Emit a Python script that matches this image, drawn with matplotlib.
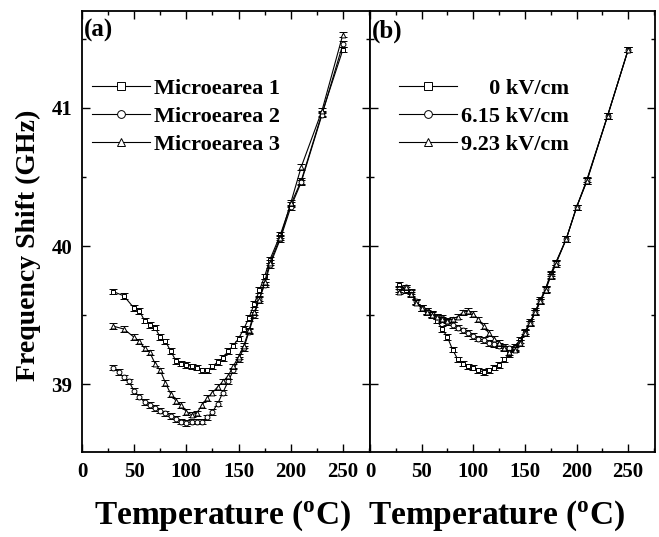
import matplotlib
matplotlib.use("Agg")
import matplotlib.pyplot as plt
from matplotlib.ticker import MultipleLocator

plt.rcParams['font.family'] = ['Liberation Serif', 'DejaVu Serif']
plt.rcParams['font.weight'] = 'bold'
plt.rcParams['mathtext.fontset'] = 'custom'
plt.rcParams['mathtext.rm'] = 'Liberation Serif:bold'
plt.rcParams['mathtext.it'] = 'Liberation Serif:bold'

# ---------- Panel (a) ----------
a_labels = ["Microearea 1", "Microearea 2", "Microearea 3"]
a1_x = [30, 40, 50, 55, 60, 65, 70, 75, 80, 85, 90, 95, 100, 105, 110, 115, 120, 125, 130, 135,
        140, 145, 150, 155, 160, 165, 170, 175, 180, 190, 200, 210, 230, 250]
a1_y = [39.67, 39.64, 39.55, 39.53, 39.46, 39.43, 39.41, 39.34, 39.31, 39.24, 39.17, 39.15, 39.14,
        39.13, 39.12, 39.10, 39.10, 39.13, 39.16, 39.19, 39.24, 39.28, 39.33, 39.40, 39.48, 39.58,
        39.68, 39.78, 39.90, 40.08, 40.30, 40.47, 40.96, 41.42]
a2_x = [30, 35, 40, 45, 50, 55, 60, 65, 70, 75, 80, 85, 90, 95, 100, 105, 110, 115, 120, 125,
        130, 135, 140, 145, 150, 155, 160, 165, 170, 175, 180, 190, 200, 210, 230, 250]
a2_y = [39.12, 39.09, 39.05, 39.02, 38.95, 38.91, 38.87, 38.85, 38.83, 38.81, 38.79, 38.77, 38.75,
        38.73, 38.72, 38.73, 38.73, 38.73, 38.76, 38.80, 38.86, 38.94, 39.02, 39.10, 39.18, 39.26,
        39.38, 39.50, 39.62, 39.72, 39.86, 40.05, 40.28, 40.46, 40.95, 41.46]
a3_x = [30, 40, 50, 55, 60, 65, 70, 75, 80, 85, 90, 95, 100, 105, 110, 115, 120, 125, 130, 135,
        140, 145, 150, 155, 160, 165, 170, 175, 180, 190, 200, 210, 230, 250]
a3_y = [39.42, 39.40, 39.34, 39.31, 39.26, 39.23, 39.15, 39.10, 39.01, 38.93, 38.88, 38.85, 38.80,
        38.78, 38.79, 38.85, 38.90, 38.94, 38.98, 39.02, 39.06, 39.13, 39.20, 39.28, 39.39, 39.52,
        39.61, 39.74, 39.88, 40.06, 40.31, 40.57, 40.98, 41.53]

# ---------- Panel (b) ----------
b_labels = ["     0 kV/cm", "6.15 kV/cm", "9.23 kV/cm"]
b_x = [28, 35, 40, 45, 50, 55, 60, 65, 70, 75, 80, 85, 90, 95, 100, 105, 110, 115, 120, 125,
       130, 135, 140, 145, 150, 155, 160, 165, 170, 175, 180, 190, 200, 210, 230, 250]
b1_y = [39.72, 39.68, 39.66, 39.60, 39.55, 39.53, 39.51, 39.46, 39.40, 39.34, 39.25, 39.18, 39.15,
        39.13, 39.12, 39.10, 39.09, 39.10, 39.12, 39.14, 39.18, 39.22, 39.27, 39.32, 39.38, 39.45,
        39.53, 39.61, 39.69, 39.80, 39.88, 40.05, 40.28, 40.47, 40.94, 41.42]
b2_y = [39.69, 39.70, 39.67, 39.60, 39.55, 39.53, 39.51, 39.49, 39.48, 39.45, 39.43, 39.41, 39.39,
        39.37, 39.35, 39.33, 39.32, 39.30, 39.29, 39.28, 39.27, 39.26, 39.26, 39.30, 39.37, 39.44,
        39.52, 39.60, 39.69, 39.79, 39.88, 40.05, 40.28, 40.48, 40.94, 41.42]
b3_y = [39.67, 39.70, 39.65, 39.59, 39.55, 39.52, 39.50, 39.49, 39.47, 39.46, 39.47, 39.49, 39.52,
        39.53, 39.51, 39.47, 39.42, 39.37, 39.33, 39.30, 39.26, 39.23, 39.25, 39.30, 39.37, 39.44,
        39.52, 39.60, 39.68, 39.78, 39.87, 40.05, 40.28, 40.47, 40.94, 41.42]

err = 0.02
markers = ['s', 'o', '^']

fig = plt.figure(figsize=(6.59, 5.37), dpi=100)
axA = fig.add_axes([82/659, 1-452/537, 288/659, 441/537])
axB = fig.add_axes([370/659, 1-452/537, 285/659, 441/537])

def draw(ax, xs, ys, labels):
    for x, y, m, lab in zip(xs, ys, markers, labels):
        ax.errorbar(x, y, yerr=err, fmt='none', ecolor='black', elinewidth=0.7,
                    capsize=3, capthick=0.7)
        ax.plot(x, y, color='black', lw=0.8, marker=m, markersize=3.5,
                markerfacecolor='white', markeredgecolor='black', markeredgewidth=0.7,
                label=lab)

draw(axA, [a1_x, a2_x, a3_x], [a1_y, a2_y, a3_y], a_labels)
draw(axB, [b_x, b_x, b_x], [b1_y, b2_y, b3_y], b_labels)

for ax in (axA, axB):
    ax.set_xlim(0, 276)
    ax.set_ylim(38.51, 41.70)
    ax.xaxis.set_major_locator(MultipleLocator(50))
    ax.xaxis.set_minor_locator(MultipleLocator(25))
    ax.yaxis.set_major_locator(MultipleLocator(1))
    ax.yaxis.set_minor_locator(MultipleLocator(0.5))
    ax.tick_params(which='both', direction='in', top=True, right=True, width=1.0)
    ax.tick_params(which='major', length=6, labelsize=15, pad=7)
    ax.tick_params(which='minor', length=3)
    for s in ax.spines.values():
        s.set_linewidth(1.3)
    for lbl in ax.get_xticklabels() + ax.get_yticklabels():
        lbl.set_fontweight('bold')

axB.tick_params(labelleft=False)

axA.text(0.005, 0.955, "(a)", transform=axA.transAxes, fontsize=18, fontweight='bold',
         ha='left', va='center')
axB.text(0.005, 0.955, "(b)", transform=axB.transAxes, fontsize=18, fontweight='bold',
         ha='left', va='center')

legA = axA.legend(loc='upper left', bbox_to_anchor=(0.035, 0.847), frameon=False,
                  borderpad=0, borderaxespad=0, handlelength=2.6, handletextpad=0.2,
                  labelspacing=0.34, numpoints=1, markerscale=1.6,
                  prop={'size': 16, 'weight': 'bold'})
legB = axB.legend(loc='upper left', bbox_to_anchor=(0.102, 0.847), frameon=False,
                  borderpad=0, borderaxespad=0, handlelength=2.6, handletextpad=0.2,
                  labelspacing=0.34, numpoints=1, markerscale=1.6,
                  prop={'size': 16, 'weight': 'bold'})

fig.text(0.043, 0.544, "Frequency Shift (GHz)", rotation=90, fontsize=20, fontweight='bold',
         ha='center', va='center')
fig.text(223/659, 1-516/537, r"Temperature ($^\mathrm{o}$C)", fontsize=24, fontweight='bold',
         ha='center', va='center')
fig.text(497/659, 1-516/537, r"Temperature ($^\mathrm{o}$C)", fontsize=24, fontweight='bold',
         ha='center', va='center')

fig.savefig("out.png", dpi=100)
